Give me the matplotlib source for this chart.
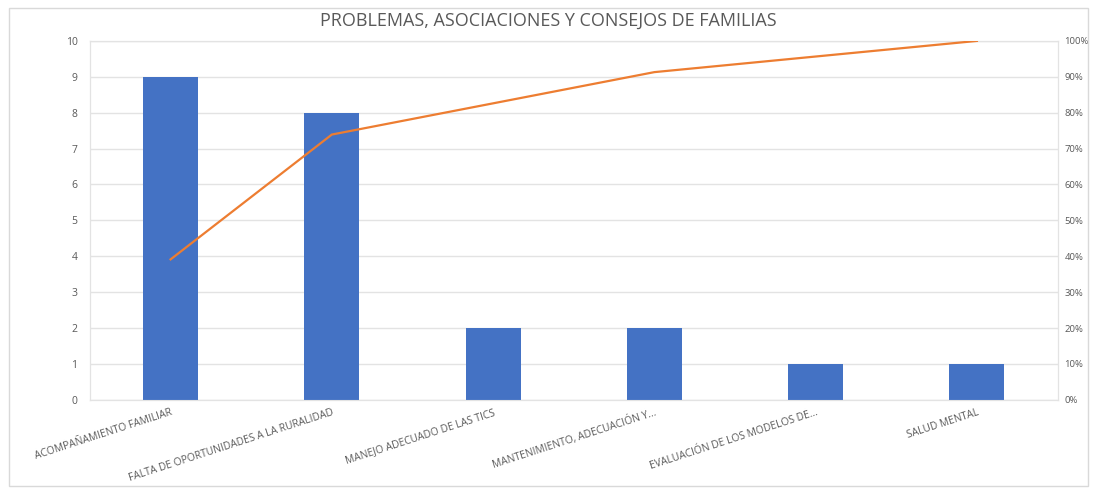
import matplotlib
matplotlib.use('Agg')
import matplotlib.pyplot as plt
import numpy as np
from matplotlib.patches import Rectangle
from matplotlib.ticker import PercentFormatter

plt.rcParams['font.family'] = ['Open Sans', 'DejaVu Sans']

categories = ['ACOMPAÑAMIENTO FAMILIAR',
              'FALTA DE OPORTUNIDADES A LA RURALIDAD',
              'MANEJO ADECUADO DE LAS TICS',
              'MANTENIMIENTO, ADECUACIÓN Y...',
              'EVALUACIÓN DE LOS MODELOS DE...',
              'SALUD MENTAL']
counts = [9, 8, 2, 2, 1, 1]
title = 'PROBLEMAS, ASOCIACIONES Y CONSEJOS DE FAMILIAS'

cum_pct = np.cumsum(counts) / np.sum(counts) * 100

text_col = '#595959'
grid_col = '#e3e3e3'

fig = plt.figure(figsize=(10.97, 4.93), dpi=100)
fig.patches.append(Rectangle((0.008, 0.015), 0.984, 0.968, transform=fig.transFigure,
                             fill=False, edgecolor='#d9d9d9', linewidth=1))
ax = fig.add_axes([0.082, 0.189, 0.882, 0.728])
x = np.arange(len(categories))
ax.bar(x, counts, width=0.34, color='#4472C4', zorder=3)
ax.set_ylim(0, 10)
ax.set_yticks(range(0, 11))
ax.set_xlim(-0.5, len(categories) - 0.5)
ax.grid(axis='y', color=grid_col, linewidth=1, zorder=0)
ax.set_xticks(x)
ax.set_xticklabels(categories, rotation=18, ha='right', rotation_mode='anchor',
                   fontsize=7.4, color=text_col)
ax.tick_params(axis='y', labelsize=7.5, colors=text_col, length=0, pad=9)
ax.tick_params(axis='x', length=0, pad=5)
for s in ax.spines.values():
    s.set_color(grid_col)

ax2 = ax.twinx()
ax2.plot(x, cum_pct, color='#ED7D31', linewidth=1.6, zorder=4)
ax2.set_ylim(0, 100)
ax2.set_yticks(range(0, 101, 10))
ax2.yaxis.set_major_formatter(PercentFormatter(decimals=0))
ax2.tick_params(axis='y', labelsize=6.8, colors=text_col, length=0, pad=5)
for s in ax2.spines.values():
    s.set_color(grid_col)

fig.text(0.5, 0.958, title, ha='center', va='center', fontsize=13, color=text_col)

fig.savefig('out.png', dpi=100)
